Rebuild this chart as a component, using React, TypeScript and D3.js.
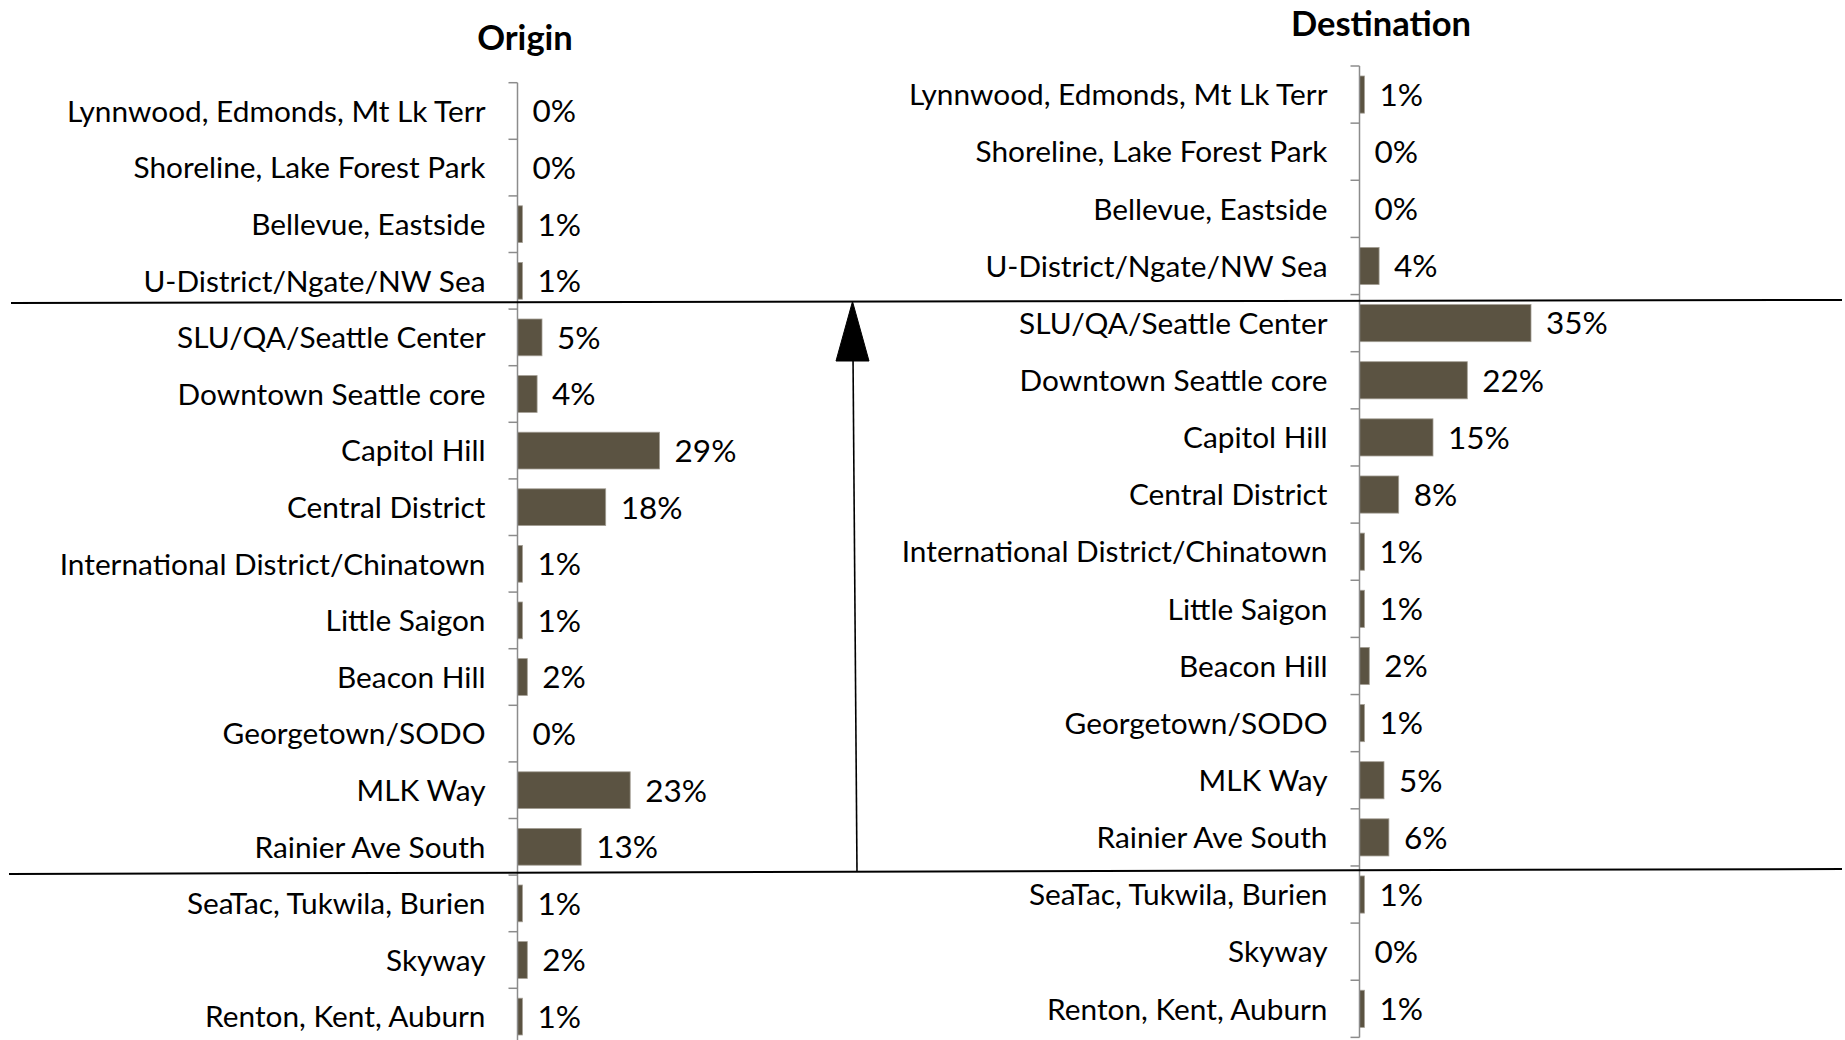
import React from 'react';
import * as d3 from 'd3';

// trip zones, top to bottom, same order in both panels
const zones = [
  'Lynnwood, Edmonds, Mt Lk Terr',
  'Shoreline, Lake Forest Park',
  'Bellevue, Eastside',
  'U-District/Ngate/NW Sea',
  'SLU/QA/Seattle Center',
  'Downtown Seattle core',
  'Capitol Hill',
  'Central District',
  'International District/Chinatown',
  'Little Saigon',
  'Beacon Hill',
  'Georgetown/SODO',
  'MLK Way',
  'Rainier Ave South',
  'SeaTac, Tukwila, Burien',
  'Skyway',
  'Renton, Kent, Auburn',
];

// share of trips (%)
const originShares = [0, 0, 1, 1, 5, 4, 29, 18, 1, 1, 2, 0, 23, 13, 1, 2, 1];
const destinationShares = [1, 0, 0, 4, 35, 22, 15, 8, 1, 1, 2, 1, 5, 6, 1, 0, 1];

const FONT = 'Lato, "Open Sans", sans-serif';
const BAR = '#5b5342';
const AXIS = '#8c8c8c';

type PanelProps = {
  title: string;
  titleX: number;
  titleY: number;
  axisX: number;
  top: number;
  step: number;
  values: number[];
};

function Panel({ title, titleX, titleY, axisX, top, step, values }: PanelProps) {
  const y = d3
    .scaleBand<string>()
    .domain(zones)
    .range([top, top + step * zones.length])
    .paddingInner(0.35)
    .paddingOuter(0.175);
  const x = d3.scaleLinear().domain([0, 10]).range([axisX, axisX + 49]);
  const ticks = d3.range(zones.length + 1).map((i) => top + i * y.step());

  return (
    <g>
      <text
        x={titleX}
        y={titleY}
        dy="0.36em"
        textAnchor="middle"
        fontFamily={FONT}
        fontWeight={700}
        fontSize={34.5}
        fill="#000"
      >
        {title}
      </text>
      {zones.map((z, i) => {
        const v = values[i];
        const cy = (y(z) ?? 0) + y.bandwidth() / 2;
        return (
          <g key={z}>
            {v > 0 && (
              <rect
                x={x(0)}
                y={y(z)}
                width={x(v) - x(0)}
                height={y.bandwidth()}
                fill={BAR}
                stroke="#a39e94"
                strokeWidth={0.8}
              />
            )}
            <text
              x={axisX - 32}
              y={cy}
              dy="0.36em"
              textAnchor="end"
              fontFamily={FONT}
              fontSize={29.8}
              fill="#000"
            >
              {z}
            </text>
            <text
              x={x(v) + 15}
              y={cy}
              dy="0.36em"
              fontFamily={FONT}
              fontSize={31.5}
              fill="#000"
            >
              {d3.format('d')(v) + '%'}
            </text>
          </g>
        );
      })}
      <line x1={axisX} x2={axisX} y1={top} y2={top + step * zones.length} stroke={AXIS} strokeWidth={1.5} />
      {ticks.map((t, i) => (
        <line key={i} x1={axisX - 9} x2={axisX} y1={t} y2={t} stroke={AXIS} strokeWidth={1.5} />
      ))}
    </g>
  );
}

export default function App() {
  return (
    <svg
      width={1845}
      height={1040}
      style={{ position: 'absolute', left: 0, top: 0, background: '#fff' }}
    >
      <Panel title="Origin" titleX={525} titleY={38} axisX={517.5} top={82.7} step={56.6} values={originShares} />
      <Panel
        title="Destination"
        titleX={1381}
        titleY={23.5}
        axisX={1359.5}
        top={66}
        step={57.14}
        values={destinationShares}
      />
      {/* core area separators */}
      <line x1={11} y1={303} x2={1842} y2={300} stroke="#000" strokeWidth={2} />
      <line x1={9} y1={874} x2={1842} y2={869} stroke="#000" strokeWidth={2} />
      {/* arrow */}
      <line x1={857} y1={872} x2={853} y2={355} stroke="#000" strokeWidth={1.6} />
      <path d="M852.5,301.5 L869,361 L836,361 Z" fill="#000" stroke="#000" strokeWidth={1} strokeLinejoin="round" />
    </svg>
  );
}
